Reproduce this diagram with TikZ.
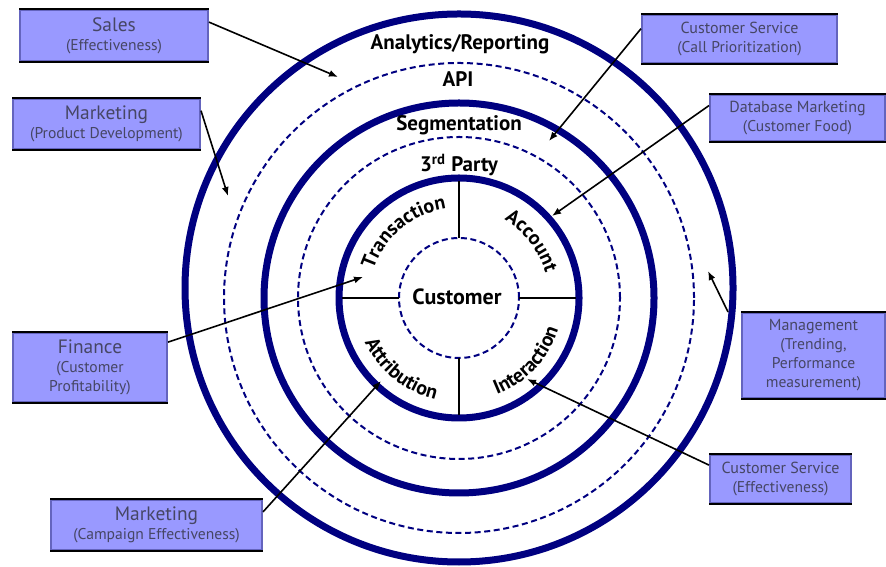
\documentclass[tikz,border=0pt]{standalone}
\usepackage{fontspec}
\setmainfont{PT Sans}
\setsansfont{PT Sans}
\usetikzlibrary{arrows.meta,decorations.text}

\definecolor{ringblue}{RGB}{0,0,128}
\definecolor{boxfill}{RGB}{153,153,255}
\definecolor{boxside}{RGB}{100,100,190}
\definecolor{boxtext}{RGB}{70,70,100}

\newcommand{\bxhead}[1]{{\fontsize{9.7}{9.5}\selectfont #1}}
\newcommand{\bxtop}[1]{{\fontsize{8}{9}\selectfont #1}}

\begin{document}
\begin{tikzpicture}[x=0.5pt,y=0.5pt]
\tikzstyle{ring}=[draw=ringblue, line width=3.5pt]
\tikzstyle{dring}=[draw=ringblue, line width=1pt, dash pattern=on 3pt off 1.8pt]
\tikzstyle{lbl}=[font=\bfseries\fontsize{10.5}{12}\selectfont, anchor=base, inner sep=0pt]
\tikzstyle{box}=[rectangle, fill=boxfill, draw=boxside, line width=1pt, inner sep=0pt, align=center, text=boxtext, font=\fontsize{7.8}{9.5}\selectfont]
\tikzstyle{arr}=[-{Latex[length=4.5pt,width=3.5pt]}, line width=0.8pt]

\useasboundingbox (0,0) rectangle (886,566);

\coordinate (C) at (459,268);
\coordinate (Co) at (459,278);

% rings
\draw[ring] (Co) circle[radius=274];
\draw[dring] (C) circle[radius=235];
\draw[ring] (C) circle[radius=195];
\draw[dring] (C) circle[radius=161];
\draw[ring] (C) circle[radius=120];
\draw[dring] (C) circle[radius=60];

\foreach \a in {0,90,180,270}
  \draw[line width=0.8pt] ([shift={(\a:60)}]C) -- ([shift={(\a:117)}]C);

% ring labels
\node[lbl] (analytics) at (460,516) {Analytics/Reporting};
\node[lbl] (api) at (458,479) {API};
\node[lbl] (segment) at (459,435) {Segmentation};
\node[lbl] (third) at (459,394) {3\textsuperscript{rd} Party};
\node[lbl, font=\bfseries\fontsize{11}{12}\selectfont] (customer) at (457,261) {Customer};

% curved labels
\path[decorate, decoration={text along path, text align=center,
  text={|\bfseries\fontsize{10}{12}\selectfont|Transaction}}]
  ([shift={(175:90)}]C) arc[start angle=175, end angle=85, radius=90];
\path[decorate, decoration={text along path, text align=center,
  text={|\bfseries\fontsize{10}{12}\selectfont|Account}}]
  ([shift={(83:90)}]C) arc[start angle=83, end angle=-7, radius=90];
\path[decorate, decoration={text along path, text align=center,
  text={|\bfseries\fontsize{10}{12}\selectfont|Interaction}}]
  ([shift={(-88:104)}]C) arc[start angle=-88, end angle=2, radius=104];
\path[decorate, decoration={text along path, text align=center,
  text={|\bfseries\fontsize{10}{12}\selectfont|Attribution}}]
  ([shift={(186:104)}]C) arc[start angle=186, end angle=276, radius=104];

% boxes
\node[box, minimum width=94pt, minimum height=25.5pt] (sales) at (114,530.5) {\bxhead{Sales}\\(Effectiveness)};
\node[box, minimum width=93.5pt, minimum height=25pt] (mktprod) at (106.5,442) {\bxhead{Marketing}\\(Product Development)};
\node[box, minimum width=97.5pt, minimum height=24pt] (csprio) at (739.5,527) {\bxtop{Customer Service}\\(Call Prioritization)};
\node[box, minimum width=87.5pt, minimum height=23pt] (dbmkt) at (797.5,448) {\bxtop{Database Marketing}\\(Customer Food)};
\node[box, minimum width=71.5pt, minimum height=42.5pt] (mgmt) at (813.5,210.5) {\bxtop{Management}\\(Trending,\\Performance\\measurement)};
\node[box, minimum width=70.5pt, minimum height=24pt] (cseff) at (780.5,87) {\bxtop{Customer Service}\\(Effectiveness)};
\node[box, minimum width=77pt, minimum height=34.5pt] (finance) at (90,198.5) {\bxhead{Finance}\\(Customer\\Profitability)};
\node[box, minimum width=105.5pt, minimum height=25pt] (mktcamp) at (156.5,41) {\bxhead{Marketing}\\(Campaign Effectiveness)};

\foreach \b in {sales,mktprod,csprio,dbmkt,mgmt,cseff,finance,mktcamp} {
  \draw[line width=0.8pt] (\b.north west) -- (\b.north east);
  \draw[line width=1.3pt] (\b.south west) -- (\b.south east);
}

% arrow tips
\coordinate (tsales) at (338,489);
\coordinate (tmktprod) at (228,370);
\coordinate (tcsprio) at (549,425);
\coordinate (tdbmkt) at (552,350);
\coordinate (tmgmt) at (708,295);
\coordinate (tcseff) at (527,187);
\coordinate (tfinance) at (363,289);
\coordinate (tmktcamp) at (381,185);

\foreach \from/\to in {sales.8/tsales,mktprod.8/tmktprod,csprio.174/tcsprio,dbmkt.172/tdbmkt,cseff.169/tcseff,finance.18/tfinance,mktcamp.7/tmktcamp}
  \draw[arr] (\from) -- (\to);
\draw[arr] ([xshift=-6.5pt]mgmt.north west) -- (tmgmt);
\end{tikzpicture}
\end{document}
